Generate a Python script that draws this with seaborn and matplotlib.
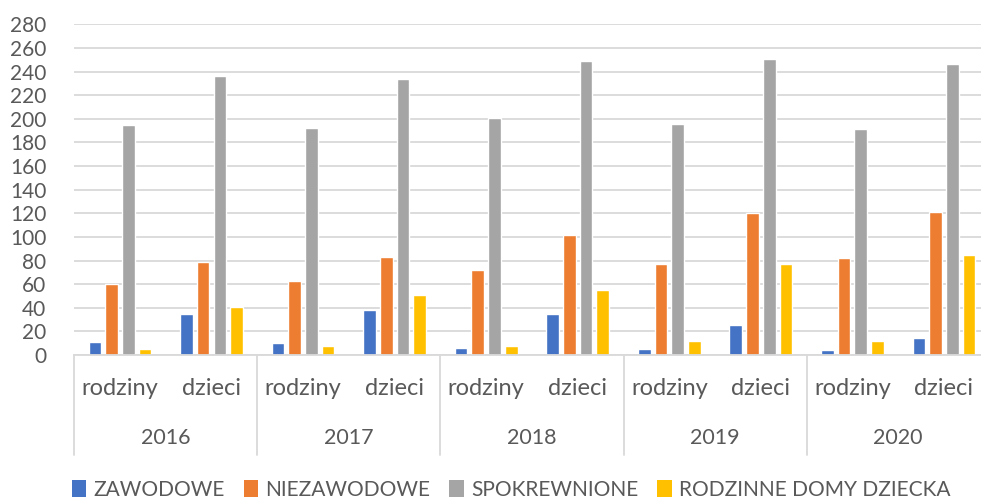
import matplotlib
matplotlib.use('Agg')
import matplotlib.pyplot as plt
import matplotlib.transforms as mtransforms
from matplotlib.patches import Patch
import seaborn as sns
import pandas as pd

# data
years = ['2016', '2017', '2018', '2019', '2020']
levels = ['rodziny', 'dzieci']
series = ['ZAWODOWE', 'NIEZAWODOWE', 'SPOKREWNIONE', 'RODZINNE DOMY DZIECKA']
zawodowe = [11, 35, 10, 38, 6, 35, 5, 25, 4, 14]
niezawodowe = [60, 79, 63, 83, 72, 102, 77, 120, 82, 121]
spokrewnione = [195, 236, 192, 234, 201, 249, 196, 251, 191, 246]
rodzinne_domy = [5, 41, 8, 51, 8, 55, 12, 77, 12, 85]
colors = ['#4472C4', '#ED7D31', '#A5A5A5', '#FFC000']

# long table for seaborn
cats = [y + ' ' + l for y in years for l in levels]
rows = []
for name, vals in zip(series, [zawodowe, niezawodowe, spokrewnione, rodzinne_domy]):
    for c, v in zip(cats, vals):
        rows.append({'kat': c, 'seria': name, 'wartosc': v})
df = pd.DataFrame(rows)

sns.set_theme(style='white')
plt.rcParams['font.family'] = ['Lato', 'DejaVu Sans']
txt = '#595959'
grid = '#D9D9D9'

fig = plt.figure(figsize=(9.81, 5.03), dpi=100)
ax = fig.add_axes([0.0756, 0.2942, 0.9333, 0.6575])

sns.barplot(data=df, x='kat', y='wartosc', hue='seria', order=cats, hue_order=series,
            palette=colors, width=0.73, gap=0.24, saturation=1, ax=ax, legend=False)

ax.set_ylim(0, 280)
ax.set_yticks(range(0, 281, 20))
ax.yaxis.grid(True, color=grid, linewidth=1.3)
ax.set_axisbelow(True)
for s in ['left', 'top', 'right']:
    ax.spines[s].set_visible(False)
ax.spines['bottom'].set_color(grid)
ax.spines['bottom'].set_linewidth(1.3)
ax.tick_params(axis='y', length=0, pad=20, labelsize=15, labelcolor=txt)
ax.set_xticks([])
ax.set_xlabel('')
ax.set_ylabel('')

# two-level category axis
trans = mtransforms.blended_transform_factory(ax.transData, ax.transAxes)
for i, c in enumerate(cats):
    ax.text(i, -0.10, c.split(' ')[1], transform=trans, ha='center', va='center',
            fontsize=17, color=txt, clip_on=False)
for j, y in enumerate(years):
    ax.text(2 * j + 0.5, -0.25, y, transform=trans, ha='center', va='center',
            fontsize=15.5, color=txt, clip_on=False)
for j in range(len(years) + 1):
    ax.plot([2 * j - 0.5, 2 * j - 0.5], [0, -0.302], transform=trans, color=grid,
            linewidth=1.3, clip_on=False, scalex=False, scaley=False)
ax.set_xlim(-0.5, 9.5)

handles = [Patch(facecolor=c, edgecolor='none', label=s) for c, s in zip(colors, series)]
leg = fig.legend(handles=handles, loc='center', bbox_to_anchor=(511 / 981, 1 - 490 / 503),
                 ncol=4, frameon=False, fontsize=15, handlelength=0.7, handleheight=0.9,
                 handletextpad=0.35, columnspacing=0.9, borderpad=0.1)
for t in leg.get_texts():
    t.set_color(txt)

fig.savefig('out.png', dpi=100)
